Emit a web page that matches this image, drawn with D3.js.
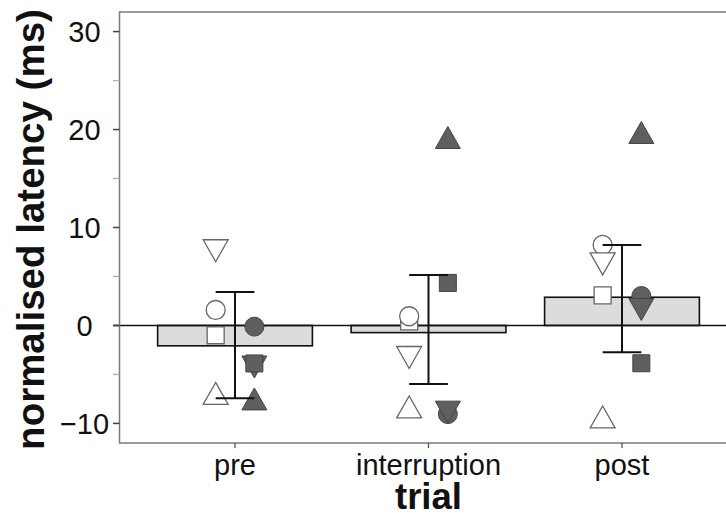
<!DOCTYPE html>
<meta charset="utf-8">
<style>
body { margin: 0; background: #fff; }
text { font-family: "Liberation Sans", Arial, sans-serif; fill: #111; }
.tick-label { font-size: 29px; }
.axis-title { font-size: 36.5px; font-weight: bold; }
.y-title { font-size: 38.5px; }
.bar { fill: #dcdcdc; stroke: #111; stroke-width: 1.6px; }
.zero { stroke: #111; stroke-width: 1.6px; }
.err { stroke: #111; stroke-width: 2px; fill: none; }
.frame { stroke: #7a7a7a; stroke-width: 1.5px; fill: none; }
.open { fill: #fff; stroke: #666; stroke-width: 1.3px; }
.filled { fill: #5f5f5f; stroke: #444; stroke-width: 1px; }
</style>
<div id="chart"></div>
<script src="https://d3js.org/d3.v7.min.js"></script>
<script>
// categories on the x axis
var trials = ["pre", "interruption", "post"];

// bar heights (mean) and error bar ends
var means   = [-2.08, -0.73, 2.88];
var errLow  = [-7.43, -5.97, -2.74];
var errHigh = [ 3.42,  5.16,  8.22];

// individual points, one array per symbol (values in trial order)
var openCircle    = [ 1.58,  0.94,  8.22];
var openSquare    = [-1.00,  0.41,  3.08];
var openTriUp     = [-6.94, -8.32, -9.34];
var openTriDown   = [ 7.63, -3.27,  6.28];
var filledCircle  = [-0.12, -9.05,  3.01];
var filledSquare  = [-3.88,  4.34, -3.86];
var filledTriUp   = [-7.50, 19.19, 19.70];
var filledTriDown = [-4.24, -8.85,  1.63];

var majorTicks = [-10, 0, 10, 20, 30];
var minorTicks = [-5, 5, 15, 25];

var width = 726, height = 515;
var pLeft = 119.5, pTop = 12, pBottom = 443;

var y = d3.scaleLinear().domain([-12, 32]).range([pBottom, pTop]);
var x = d3.scalePoint().domain(trials).range([pLeft, 737.5]).padding(0.597);
var step = x.step();
var barW = step * 0.8;
var off = step * 0.1; // horizontal offset of open / filled symbols

// triangle centred on its bounding box
function tri(down) {
  return {
    draw: function(ctx, size) {
      var w = Math.sqrt(size) * 1.52, h = w * 0.88;
      var s = down ? -1 : 1;
      ctx.moveTo(0, -s * h / 2);
      ctx.lineTo(w / 2, s * h / 2);
      ctx.lineTo(-w / 2, s * h / 2);
      ctx.closePath();
    }
  };
}

var series = [
  {v: filledCircle,  type: d3.symbolCircle, size: 283, cls: "filled", dx: off},
  {v: filledTriDown, type: tri(true),       size: 270, cls: "filled", dx: off},
  {v: filledSquare,  type: d3.symbolSquare, size: 289, cls: "filled", dx: off},
  {v: filledTriUp,   type: tri(false),      size: 270, cls: "filled", dx: off},
  {v: openSquare,    type: d3.symbolSquare, size: 289, cls: "open", dx: -off},
  {v: openCircle,    type: d3.symbolCircle, size: 283, cls: "open", dx: -off},
  {v: openTriUp,     type: tri(false),      size: 270, cls: "open", dx: -off},
  {v: openTriDown,   type: tri(true),       size: 270, cls: "open", dx: -off}
];

var svg = d3.select("#chart").append("svg")
    .attr("width", width)
    .attr("height", height);

// bars
svg.selectAll(".bar")
    .data(trials)
  .enter().append("rect")
    .attr("class", "bar")
    .attr("x", function(d) { return x(d) - barW / 2; })
    .attr("width", barW)
    .attr("y", function(d, i) { return Math.min(y(means[i]), y(0)); })
    .attr("height", function(d, i) { return Math.abs(y(means[i]) - y(0)); });

// zero line
svg.append("line")
    .attr("class", "zero")
    .attr("x1", pLeft - 6.5).attr("x2", width)
    .attr("y1", y(0)).attr("y2", y(0));

// points
series.forEach(function(s) {
  svg.selectAll(null)
      .data(s.v)
    .enter().append("path")
      .attr("class", s.cls)
      .attr("d", d3.symbol().type(s.type).size(s.size))
      .attr("transform", function(d, i) {
        return "translate(" + (x(trials[i]) + s.dx) + "," + y(d) + ")";
      });
});

// error bars
var eb = svg.selectAll(".errbar")
    .data(trials)
  .enter().append("g");
eb.append("line").attr("class", "err")
    .attr("x1", function(d) { return x(d); }).attr("x2", function(d) { return x(d); })
    .attr("y1", function(d, i) { return y(errLow[i]); })
    .attr("y2", function(d, i) { return y(errHigh[i]); });
eb.append("line").attr("class", "err")
    .attr("x1", function(d) { return x(d) - off; }).attr("x2", function(d) { return x(d) + off; })
    .attr("y1", function(d, i) { return y(errHigh[i]); })
    .attr("y2", function(d, i) { return y(errHigh[i]); });
eb.append("line").attr("class", "err")
    .attr("x1", function(d) { return x(d) - off; }).attr("x2", function(d) { return x(d) + off; })
    .attr("y1", function(d, i) { return y(errLow[i]); })
    .attr("y2", function(d, i) { return y(errLow[i]); });

// panel frame (right side runs off the page)
svg.append("path")
    .attr("class", "frame")
    .attr("d", "M" + (width + 5) + "," + pTop + "H" + pLeft + "V" + pBottom + "H" + (width + 5));

// y ticks
svg.selectAll(".minor")
    .data(minorTicks)
  .enter().append("line")
    .attr("x1", pLeft - 6.5).attr("x2", pLeft)
    .attr("y1", function(d) { return y(d); }).attr("y2", function(d) { return y(d); })
    .attr("stroke", "#b0b0b0").attr("stroke-width", 1.3);
svg.selectAll(".major")
    .data(majorTicks)
  .enter().append("line")
    .attr("x1", pLeft - 6.5).attr("x2", pLeft)
    .attr("y1", function(d) { return y(d); }).attr("y2", function(d) { return y(d); })
    .attr("stroke", "#444").attr("stroke-width", 1.5);
svg.selectAll(".ylab")
    .data(majorTicks)
  .enter().append("text")
    .attr("class", "tick-label")
    .attr("text-anchor", "middle")
    .attr("x", 84.5)
    .attr("y", function(d) { return y(d); })
    .attr("dy", "0.35em")
    .text(function(d) { return d < 0 ? "\u2212" + Math.abs(d) : d; });

// x ticks
svg.selectAll(".xtick")
    .data(trials)
  .enter().append("line")
    .attr("x1", function(d) { return x(d); }).attr("x2", function(d) { return x(d); })
    .attr("y1", pBottom).attr("y2", pBottom + 5)
    .attr("stroke", "#555").attr("stroke-width", 1.3);
svg.selectAll(".xlab")
    .data(trials)
  .enter().append("text")
    .attr("class", "tick-label")
    .attr("text-anchor", "middle")
    .attr("x", function(d) { return x(d); })
    .attr("y", 475)
    .text(function(d) { return d; });

// axis titles
svg.append("text")
    .attr("class", "axis-title")
    .attr("text-anchor", "middle")
    .attr("x", x("interruption"))
    .attr("y", 509)
    .text("trial");
svg.append("text")
    .attr("class", "axis-title y-title")
    .attr("text-anchor", "middle")
    .attr("transform", "translate(44," + ((pTop + pBottom) / 2 + 2) + ")rotate(-90)")
    .text("normalised latency (ms)");
</script>
